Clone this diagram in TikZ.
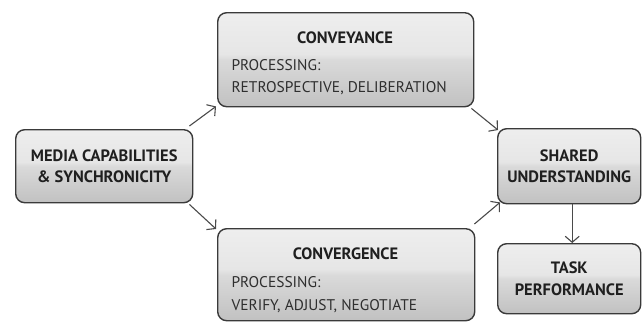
\documentclass[tikz,border=0pt]{standalone}
\usepackage{fontspec}
\setmainfont{PT Sans}
\usetikzlibrary{arrows.meta}
\definecolor{edge}{HTML}{3A3A3A}
\definecolor{arrowgray}{HTML}{4A4A4A}
\definecolor{gtop}{HTML}{F7F7F7}
\definecolor{gmidhi}{HTML}{E6E6E6}
\definecolor{gmidlo}{HTML}{DADADA}
\definecolor{gbot}{HTML}{A8A8A8}
\pgfdeclareverticalshading{glossy}{100bp}{color(0bp)=(gbot); color(50bp)=(gmidlo); color(53bp)=(gmidhi); color(100bp)=(gtop)}
\tikzset{
  panel/.style={draw=edge, line width=1.4bp, rounded corners=9bp, shading=glossy,
    inner sep=0pt, anchor=north west},
  flow/.style={draw=arrowgray, line width=1.1bp, -{Straight Barb[length=6bp,width=14bp,line width=1.1bp]}},
  title/.style={font=\fontsize{16.5}{22}\selectfont\bfseries, text=black!88, align=center},
  body/.style={font=\fontsize{15.5}{22}\selectfont, text=black!82, anchor=west}
}
\begin{document}
\begin{tikzpicture}[x=1bp,y=-1bp]
\useasboundingbox (0,0) rectangle (642,322);
% boxes
\node[panel, minimum width=177bp, minimum height=73bp] (media) at (15,129) {};
\node[panel, minimum width=256bp, minimum height=94bp] (convey) at (217,12) {};
\node[panel, minimum width=257bp, minimum height=92bp] (converge) at (217,228) {};
\node[panel, minimum width=143bp, minimum height=75bp] (shared) at (497,128) {};
\node[panel, minimum width=143bp, minimum height=70bp] (task) at (497,243) {};
% labels
\node[title] (mediat) at (media.center) {MEDIA CAPABILITIES\\\& SYNCHRONICITY};
\node[title] (conveyt) at (345,38) {CONVEYANCE};
\node[body] (conveyp) at (228,65) {PROCESSING:};
\node[body] (conveyl) at (228,88) {RETROSPECTIVE, DELIBERATION};
\node[title] (convergt) at (345.5,254) {CONVERGENCE};
\node[body] (convergp) at (228,282) {PROCESSING:};
\node[body] (convergl) at (228,306) {VERIFY, ADJUST, NEGOTIATE};
\node[title] (sharedt) at (shared.center) {SHARED\\UNDERSTANDING};
\node[title] (taskt) at (task.center) {TASK\\PERFORMANCE};
% connectors
\draw[flow] ([xshift=-4bp,yshift=3bp]media.north east) -- ([xshift=-1bp,yshift=1bp]convey.south west);
\draw[flow] ([xshift=-4bp,yshift=-1bp]media.south east) -- ([xshift=-1bp,yshift=-1bp]converge.north west);
\draw[flow] ([xshift=-3bp,yshift=-1bp]convey.south east) -- ([xshift=1bp,yshift=-2bp]shared.north west);
\draw[flow] ([xshift=-1bp,yshift=4bp]converge.north east) -- ([xshift=3bp,yshift=2bp]shared.south west);
\draw[flow] ([xshift=3bp]shared.south) -- ([xshift=3bp]task.north);
\end{tikzpicture}
\end{document}
